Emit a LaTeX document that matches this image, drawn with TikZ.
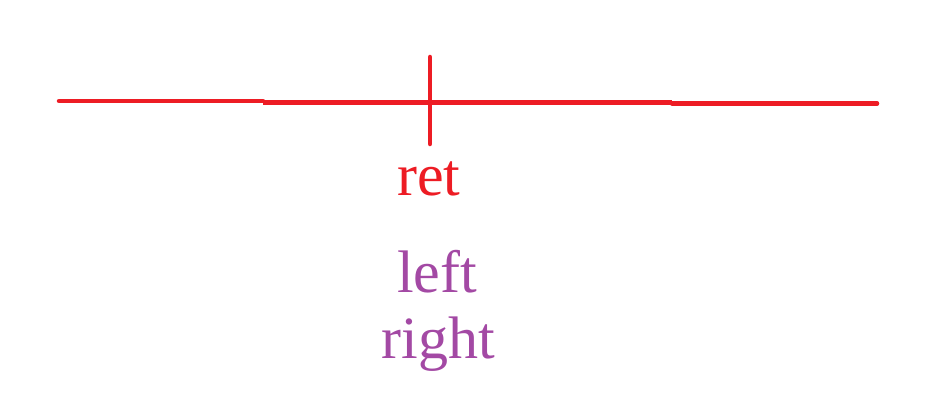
\documentclass[tikz,border=0pt]{standalone}
\usepackage{fontspec}
\setmainfont{Liberation Serif}
\usepackage{xcolor}
\usepackage{tikz}
\definecolor{paintred}{HTML}{ED1C24}
\definecolor{paintpurple}{HTML}{A349A4}
\tikzset{
  rline/.style={line width=4.5pt,draw=paintred,line cap=round},
  rlabel/.style={text=paintred,inner sep=0pt,anchor=base,font=\fontsize{60}{66}\selectfont},
  plabel/.style={text=paintpurple,inner sep=0pt,anchor=base,font=\fontsize{60}{66}\selectfont}
}
\begin{document}
\begin{tikzpicture}[x=1pt,y=-1pt]
  \useasboundingbox (0,0) rectangle (941,404);
  \coordinate (a0) at (59,101);
  \coordinate (a1) at (263,101);
  \coordinate (b0) at (263,102.5);
  \coordinate (b1) at (672,102.5);
  \coordinate (c0) at (672,103.5);
  \coordinate (c1) at (877,103.5);
  \coordinate (t0) at (430,57);
  \coordinate (t1) at (430,144);
  \draw[rline] (a0) -- (a1);
  \draw[rline,line cap=butt] (b0) -- (b1);
  \draw[rline] (c0) -- (c1);
  \draw[rline] (t0) -- (t1);
  \node[rlabel] (ret) at (429,195) {ret};
  \node[plabel] (left) at (437,292) {left};
  \node[plabel] (right) at (438,358) {right};
\end{tikzpicture}
\end{document}
